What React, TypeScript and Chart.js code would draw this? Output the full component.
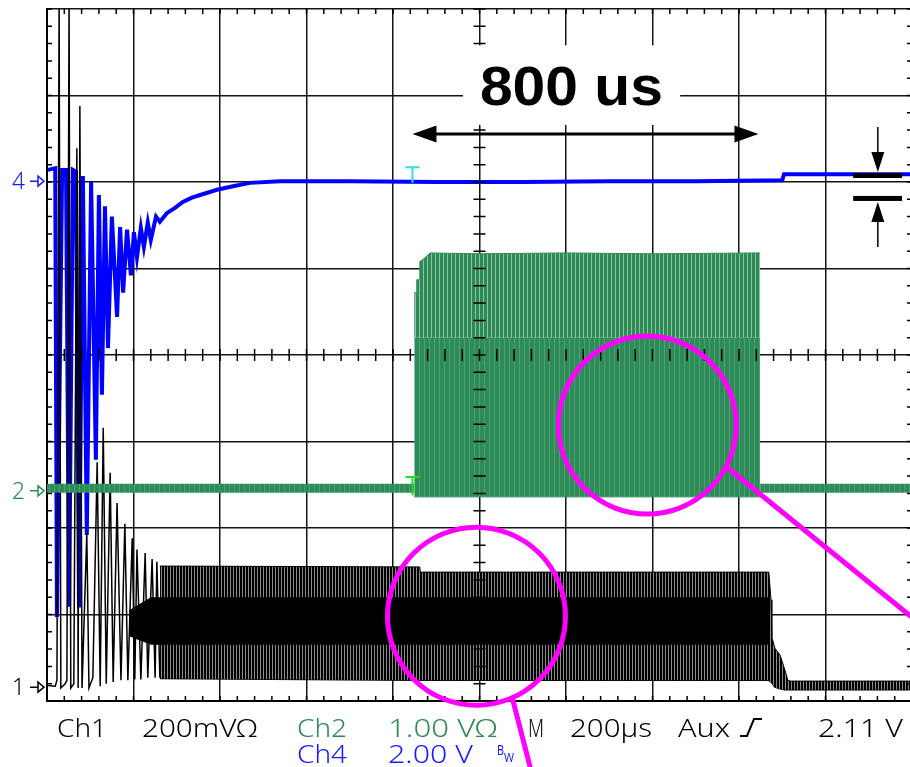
import { useEffect, useRef } from "react";
import { Chart, registerables } from "chart.js";

Chart.register(...registerables);

// Time axis in µs (200 µs/div, 10 div), vertical axis in screen divisions (8 div)
const T_MIN = -1000;
const T_MAX = 1000;
const V_MIN = -4;
const V_MAX = 4;

// Ch4 (blue): ringing at power-up, settling, small step near the end
const ch4T = [-998, -981, -977, -965, -956, -949, -940, -933, -926, -917, -908, -898, -887, -880, -873, -866, -859, -850, -838, -831, -824, -815, -806, -799, -792, -783, -776, -767, -760, -748, -739, -723, -704, -686, -665, -646, -607, -570, -531, -461, -300, -100, 100, 300, 500, 700, 704, 1000];
const ch4V = [2.14, 2.16, -3.03, 2.14, 2.14, -2.91, 2.14, 2.12, -2.92, 2.07, -2.08, 2.0, -1.21, 1.85, -0.46, 1.72, 0.08, 1.6, 0.44, 1.48, 0.72, 1.45, 0.92, 1.42, 1.13, 1.47, 1.25, 1.53, 1.33, 1.6, 1.54, 1.64, 1.7, 1.77, 1.82, 1.85, 1.91, 1.95, 1.99, 2.01, 2.01, 2.0, 2.0, 2.01, 2.01, 2.02, 2.09, 2.09];

// Ch1 (black): start-up ringing peaks and troughs
const ch1RingT = [-998, -981, -977, -972, -968, -958, -954, -949, -945, -938, -931, -928, -924, -919, -908, -903, -894, -884, -877, -870, -863, -854, -847, -838, -829, -820, -813, -803, -797, -792, -783, -773, -767, -757, -750, -746, -739];
const ch1RingV = [-3.82, -3.83, -3.76, 4.1, -3.85, -3.8, -3.76, 4.1, -3.85, -3.8, 2.39, -3.85, 2.88, -3.85, -2.06, -3.85, -3.73, -1.24, -3.83, -0.84, -3.8, -1.36, -3.78, -1.71, -3.76, -1.95, -3.76, -2.12, -3.75, -2.25, -3.75, -2.29, -3.73, -2.36, -3.73, -2.39, -3.73];

// Ch1 oscillation envelope (upper / lower) and its dense core
const ch1EnvT = [-739, -138, -137, 669, 674, 676, 683, 695, 706, 713, 718, 1000];
const ch1EnvTop = [-2.44, -2.45, -2.51, -2.51, -2.83, -3.26, -3.39, -3.47, -3.64, -3.76, -3.77, -3.77];
const ch1EnvBot = [-3.74, -3.76, -3.76, -3.76, -3.78, -3.79, -3.84, -3.86, -3.87, -3.87, -3.87, -3.87];
const ch1CoreT = [-810, -760, 669];
const ch1CoreTop = [-2.95, -2.8, -2.8];
const ch1CoreBot = [-3.25, -3.35, -3.35];

// Ch2 (green): idle level and the 800 µs burst
const ch2BaseT = [-1000, -151, 0, 649, 1000];
const ch2BaseV = [-1.54, -1.54, null, -1.54, -1.54];
const ch2BurstT = [-151, -146, -145, -139, -138, -127, -114, 0, 200, 400, 649];
const ch2BurstTop = [0.72, 0.72, 0.87, 0.87, 1.08, 1.12, 1.18, 1.17, 1.18, 1.17, 1.18];
const ch2BurstMid = [0.2, 0.2, 0.2, 0.2, 0.2, 0.2, 0.2, 0.2, 0.2, 0.2, 0.2];
const ch2BurstBot = [-1.64, -1.64, -1.64, -1.64, -1.64, -1.64, -1.64, -1.64, -1.64, -1.64, -1.64];

// Readout line under the graticule
const readoutRow1 = [
  { text: "Ch1", x: 57, w: 50, color: "#000" },
  { text: "200mV\u03A9", x: 142, w: 115, color: "#000" },
  { text: "Ch2", x: 297, w: 50, color: "#2e8b57" },
  { text: "1.00 V\u03A9", x: 388, w: 109, color: "#2e8b57" },
  { text: "M", x: 528, w: 16, color: "#000" },
  { text: "200\u00B5s", x: 570, w: 82, color: "#000" },
  { text: "Aux", x: 678, w: 52, color: "#000" },
  { text: "2.11 V", x: 818, w: 85, color: "#000" },
];
const readoutRow2 = [
  { text: "Ch4", x: 297, w: 50, color: "#1a1aff" },
  { text: "2.00 V", x: 388, w: 85, color: "#1a1aff" },
];
const channelMarkers = [
  { label: "4", v: 2.01, color: "#1a1aff" },
  { label: "2", v: -1.57, color: "#2e8b57" },
  { label: "1", v: -3.84, color: "#000" },
];

const GREEN = "#2e8b57";
const BLUE = "#0000ff";
const MAGENTA = "#ff00ff";
const FONT = '"Noto Sans", "DejaVu Sans", sans-serif';

const pts = (t: number[], v: (number | null)[]) => t.map((x, i) => ({ x, y: v[i] }));

function stripes(base: string, light: string, period: number) {
  const c = document.createElement("canvas");
  c.width = period;
  c.height = 1;
  const g = c.getContext("2d")!;
  g.fillStyle = base;
  g.fillRect(0, 0, period, 1);
  g.fillStyle = light;
  g.fillRect(period - 1, 0, 1, 1);
  return g.createPattern(c, "repeat")!;
}

function fitText(ctx: CanvasRenderingContext2D, s: string, x: number, y: number, w: number, font: string, color: string) {
  ctx.save();
  ctx.font = font;
  ctx.fillStyle = color;
  ctx.textBaseline = "alphabetic";
  const m = ctx.measureText(s).width;
  ctx.translate(x, y);
  ctx.scale(w / m, 1);
  ctx.fillText(s, 0, 0);
  ctx.restore();
}

const overlay = {
  id: "scopeOverlay",
  afterDraw(chart: any) {
    const { ctx, chartArea: a, scales } = chart;
    const X = (t: number) => scales.x.getPixelForValue(t);
    const Y = (v: number) => scales.y.getPixelForValue(v);
    ctx.save();

    // graticule minor ticks: frame and centre axes
    ctx.strokeStyle = "#000";
    ctx.lineWidth = 1.5;
    ctx.beginPath();
    for (let i = 0; i <= 50; i++) {
      const x = X(T_MIN + i * 40);
      ctx.moveTo(x, a.top);
      ctx.lineTo(x, a.top + 5);
      ctx.moveTo(x, a.bottom);
      ctx.lineTo(x, a.bottom - 5);
      ctx.moveTo(x, Y(0) - 6);
      ctx.lineTo(x, Y(0) + 6);
    }
    for (let i = 0; i <= 40; i++) {
      const y = Y(V_MIN + i * 0.2);
      ctx.moveTo(a.left, y);
      ctx.lineTo(a.left + 5, y);
      ctx.moveTo(a.right, y);
      ctx.lineTo(a.right - 5, y);
      ctx.moveTo(X(0) - 6, y);
      ctx.lineTo(X(0) + 6, y);
    }
    ctx.stroke();

    // trigger markers
    ctx.lineWidth = 2;
    ctx.strokeStyle = "#33e0e0";
    ctx.beginPath();
    ctx.moveTo(X(-155) - 7, Y(2.17));
    ctx.lineTo(X(-155) + 7, Y(2.17));
    ctx.moveTo(X(-155), Y(2.17));
    ctx.lineTo(X(-155), Y(1.99));
    ctx.stroke();
    ctx.strokeStyle = "#1fe01f";
    ctx.beginPath();
    ctx.moveTo(X(-155) - 7, Y(-1.41));
    ctx.lineTo(X(-155) + 7, Y(-1.41));
    ctx.moveTo(X(-155), Y(-1.41));
    ctx.lineTo(X(-155), Y(-1.62));
    ctx.stroke();

    // channel ground markers
    for (const m of channelMarkers) {
      const y = Y(m.v);
      fitText(ctx, m.label, 12, y + 8, 13, `300 23px ${FONT}`, m.color);
      ctx.strokeStyle = m.color;
      ctx.lineWidth = 1.5;
      ctx.beginPath();
      ctx.moveTo(30, y);
      ctx.lineTo(38, y);
      ctx.moveTo(38, y - 5);
      ctx.lineTo(44, y);
      ctx.lineTo(38, y + 5);
      ctx.closePath();
      ctx.stroke();
    }

    // "800 us" label with its measuring arrow
    ctx.fillStyle = "#fff";
    ctx.fillRect(X(-38), Y(3.58), X(464) - X(-38), Y(2.66) - Y(3.58));
    fitText(ctx, "800 us", X(1), Y(2.89), 183, 'bold 56px "Liberation Sans", Arial, sans-serif', "#000");
    const ay = Y(2.555);
    const ax0 = X(-155);
    const ax1 = X(645);
    ctx.strokeStyle = "#000";
    ctx.fillStyle = "#000";
    ctx.lineWidth = 3;
    ctx.beginPath();
    ctx.moveTo(ax0 + 10, ay);
    ctx.lineTo(ax1 - 10, ay);
    ctx.stroke();
    ctx.beginPath();
    ctx.moveTo(ax0, ay);
    ctx.lineTo(ax0 + 24, ay - 8.5);
    ctx.lineTo(ax0 + 24, ay + 8.5);
    ctx.closePath();
    ctx.moveTo(ax1, ay);
    ctx.lineTo(ax1 - 24, ay - 8.5);
    ctx.lineTo(ax1 - 24, ay + 8.5);
    ctx.closePath();
    ctx.fill();

    // step-height marker on the right
    const bx0 = X(864);
    const bx1 = X(977);
    const mx = X(921);
    ctx.fillRect(bx0, Y(2.075) - 2.5, bx1 - bx0, 5);
    ctx.fillRect(bx0, Y(1.81) - 2.5, bx1 - bx0, 5);
    ctx.lineWidth = 1.5;
    ctx.beginPath();
    ctx.moveTo(mx, Y(2.636));
    ctx.lineTo(mx, Y(2.116) - 15);
    ctx.moveTo(mx, Y(1.769) + 15);
    ctx.lineTo(mx, Y(1.249));
    ctx.stroke();
    ctx.beginPath();
    ctx.moveTo(mx, Y(2.116));
    ctx.lineTo(mx - 6.5, Y(2.116) - 20);
    ctx.lineTo(mx + 6.5, Y(2.116) - 20);
    ctx.closePath();
    ctx.moveTo(mx, Y(1.769));
    ctx.lineTo(mx - 6.5, Y(1.769) + 20);
    ctx.lineTo(mx + 6.5, Y(1.769) + 20);
    ctx.closePath();
    ctx.fill();

    // readout
    const r1 = a.bottom + 36;
    const r2 = a.bottom + 62;
    for (const r of readoutRow1) fitText(ctx, r.text, r.x, r1, r.w, `300 25px ${FONT}`, r.color);
    for (const r of readoutRow2) fitText(ctx, r.text, r.x, r2, r.w, `300 25px ${FONT}`, r.color);
    fitText(ctx, "B", 497, a.bottom + 54, 7, `14px ${FONT}`, "#1a1aff");
    fitText(ctx, "W", 504, a.bottom + 61, 10, `13px ${FONT}`, "#1a1aff");
    ctx.strokeStyle = "#000";
    ctx.lineWidth = 2;
    ctx.beginPath();
    ctx.moveTo(740, r1 - 1);
    ctx.lineTo(747, r1 - 1);
    ctx.lineTo(754, r1 - 18);
    ctx.lineTo(762, r1 - 18);
    ctx.stroke();

    // highlight circles and pointers
    ctx.strokeStyle = MAGENTA;
    ctx.lineWidth = 5;
    ctx.beginPath();
    ctx.arc(X(388), Y(-0.81), 89, 0, Math.PI * 2);
    ctx.stroke();
    ctx.beginPath();
    ctx.arc(X(-7), Y(-3.02), 89, 0, Math.PI * 2);
    ctx.stroke();
    ctx.beginPath();
    ctx.moveTo(X(575), Y(-1.31));
    ctx.lineTo(X(1007), Y(-3.06));
    ctx.moveTo(X(75), Y(-3.95));
    ctx.lineTo(X(119), Y(-4.8));
    ctx.stroke();

    ctx.restore();
  },
};

export default function App() {
  const ref = useRef<HTMLCanvasElement>(null);

  useEffect(() => {
    const greenStrong = stripes(GREEN, "#8cc4a2", 4);
    const greenFaint = stripes(GREEN, "#4aa274", 5);
    const blackStripe = stripes("#000", "#8c8c8c", 3);
    const none = "rgba(0,0,0,0)";

    const grid = { color: "#141414", lineWidth: 1.5, drawTicks: false };
    const chart = new Chart(ref.current!, {
      type: "line",
      data: {
        datasets: [
          { data: pts(ch2BurstT, ch2BurstTop), fill: "+1", backgroundColor: greenStrong, borderColor: GREEN, borderWidth: 1 },
          { data: pts(ch2BurstT, ch2BurstMid), fill: "+1", backgroundColor: greenFaint, borderColor: none, borderWidth: 1 },
          { data: pts(ch2BurstT, ch2BurstBot), fill: false, borderColor: GREEN, borderWidth: 1 },
          { data: pts(ch2BaseT, ch2BaseV), fill: false, borderColor: greenFaint, borderWidth: 9, spanGaps: false },
          { data: pts(ch1CoreT, ch1CoreTop), fill: "+1", backgroundColor: "#000", borderColor: none, borderWidth: 1 },
          { data: pts(ch1CoreT, ch1CoreBot), fill: false, borderColor: none, borderWidth: 1 },
          { data: pts(ch1EnvT, ch1EnvTop), fill: "+1", backgroundColor: blackStripe, borderColor: "#000", borderWidth: 1 },
          { data: pts(ch1EnvT, ch1EnvBot), fill: false, borderColor: "#000", borderWidth: 1.5 },
          { data: pts(ch1RingT, ch1RingV), fill: false, borderColor: "#000", borderWidth: 1.5 },
          { data: pts(ch4T, ch4V), fill: false, borderColor: BLUE, borderWidth: 4 },
        ] as any,
      },
      options: {
        animation: false,
        responsive: false,
        devicePixelRatio: 1,
        events: [],
        layout: { padding: { left: 47, top: 9, right: 18, bottom: 66 } },
        elements: { point: { radius: 0 }, line: { tension: 0 } },
        plugins: { legend: { display: false }, tooltip: { enabled: false }, filler: { propagate: false } },
        scales: {
          x: {
            type: "linear",
            min: T_MIN,
            max: T_MAX,
            z: 1,
            ticks: { display: false, stepSize: 200 },
            grid,
            border: { display: true, color: "#000", width: 2 },
            afterFit: (s: any) => {
              s.height = 0;
            },
          },
          y: {
            type: "linear",
            min: V_MIN,
            max: V_MAX,
            z: 1,
            ticks: { display: false, stepSize: 1 },
            grid,
            border: { display: true, color: "#000", width: 2 },
            afterFit: (s: any) => {
              s.width = 0;
            },
          },
        },
      } as any,
      plugins: [overlay],
    });
    return () => chart.destroy();
  }, []);

  return (
    <div style={{ position: "fixed", left: 0, top: 0, width: 910, height: 767, overflow: "hidden", background: "#fff" }}>
      <canvas ref={ref} width={930} height={767} style={{ display: "block", width: 930, height: 767 }} />
    </div>
  );
}
